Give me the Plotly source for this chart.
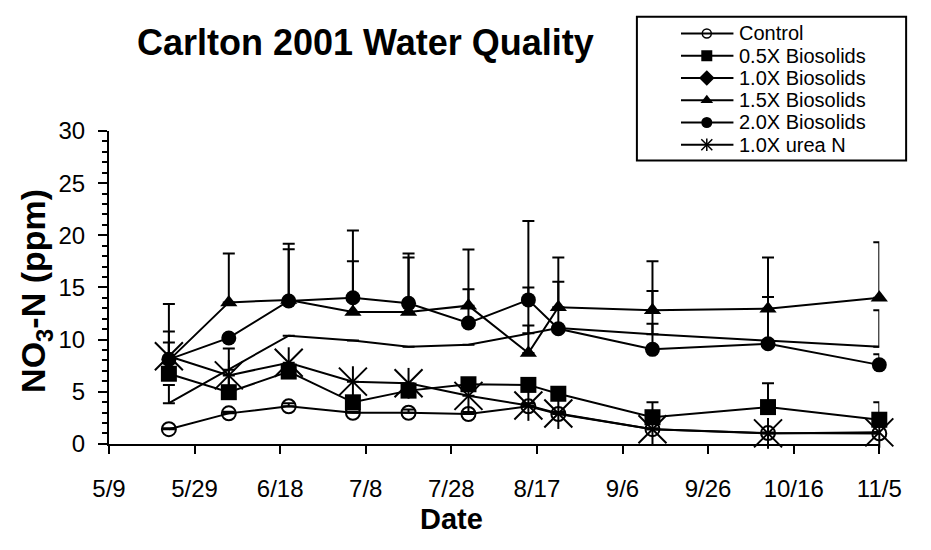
import plotly.graph_objects as go

# ---------------- data ----------------
dates = ["2001-05-23", "2001-06-06", "2001-06-20", "2001-07-05", "2001-07-18",
         "2001-08-01", "2001-08-15", "2001-08-22", "2001-09-13", "2001-10-10",
         "2001-11-05"]

control = [1.4, 2.92, 3.59, 2.98, 2.98, 2.86, 3.59, 2.86, 1.4, 1.03, 1.0]
bio_05 = [6.72, 4.95, 6.93, 3.98, 5.1, 5.71, 5.65, 4.8, 2.55, 3.52, 2.31]
bio_10 = [3.9, 7.1, 10.37, 9.9, 9.3, 9.5, 10.6, 11.1, 10.5, 9.9, 9.3]
bio_15 = [8.0, 13.56, 13.8, 12.65, 12.65, 13.25, 8.7, 13.1, 12.8, 12.95, 14.0]
bio_20 = [8.1, 10.15, 13.7, 14.0, 13.47, 11.58, 13.8, 11.03, 9.06, 9.6, 7.57]
urea = [8.4, 6.56, 7.78, 5.96, 5.8, 4.6, 3.68, 2.9, 1.4, 1.0, 1.1]

err_control = [0.1, 0.15, 0.3, 0.1, 0.3, 0.2, 0.3, 0.2, 0.1, 0.05, 0.1]
err_05 = [3.0, 4.2, 0, 0, 0, 0, 0, 0, 1.43, 2.28, 1.67]
err_10 = [1.75, 0, 0, 0, 0, 0, 4.4, 0, 4.15, 0, 3.5]
err_15 = [5.4, 4.7, 5.38, 4.85, 5.22, 5.38, 2.64, 4.77, 4.7, 4.92, 5.33]
err_20 = [2.66, 0, 4.96, 6.45, 4.79, 3.25, 7.57, 4.5, 2.46, 4.47, 1.03]
err_urea = [0, 0, 0, 0, 0, 0, 0, 0, 0, 0, 0]

series_names = ["Control", "0.5X Biosolids", "1.0X Biosolids",
                "1.5X Biosolids", "2.0X Biosolids", "1.0X urea N"]

y_ticks = [0, 5, 10, 15, 20, 25, 30]

# ---------------- styling ----------------
W, H = 931, 550
FONT = "Liberation Sans, Arial, sans-serif"
BLACK = "#000000"

# plot area in pixels
PL, PR, PT, PB = 96, 900, 123, 452


def px_x(p):
    return p / W


def px_y(p):
    return 1 - p / H


styles = [
    dict(symbol="circle-open", size=14, color=BLACK, line=dict(color=BLACK, width=2)),
    dict(symbol="square", size=16, color=BLACK),
    None,  # 1.0X biosolids drawn without markers
    dict(symbol="triangle-up", size=15, color=BLACK),
    dict(symbol="circle", size=15, color=BLACK),
    dict(symbol="x-thin-open", size=28, color=BLACK, line=dict(color=BLACK, width=2)),
]

legend_styles = [
    dict(symbol="circle-open", size=9, color=BLACK, line=dict(color=BLACK, width=1.5)),
    dict(symbol="square", size=11, color=BLACK),
    dict(symbol="diamond", size=12, color=BLACK),
    dict(symbol="triangle-up", size=11, color=BLACK),
    dict(symbol="circle", size=11, color=BLACK),
    dict(symbol="x-thin-open", size=11, color=BLACK, line=dict(color=BLACK, width=1.5)),
]

values = [control, bio_05, bio_10, bio_15, bio_20, urea]
errors = [err_control, err_05, err_10, err_15, err_20, err_urea]

fig = go.Figure()

for i, (name, vals, errs) in enumerate(zip(series_names, values, errors)):
    st = styles[i]
    fig.add_trace(go.Scatter(
        x=dates, y=vals, name=name,
        mode="lines+markers" if st else "lines",
        line=dict(color=BLACK, width=2),
        marker=st if st else None,
        error_y=dict(type="data", array=errs, symmetric=False,
                     arrayminus=[0] * len(errs),
                     color=BLACK, thickness=2, width=6),
        cliponaxis=False, showlegend=False,
        xaxis="x", yaxis="y",
    ))

# vertical stroke of the urea asterisk
fig.add_trace(go.Scatter(
    x=dates, y=urea, mode="markers",
    marker=dict(symbol="line-ns-open", size=22, color=BLACK,
                line=dict(color=BLACK, width=2)),
    cliponaxis=False, showlegend=False, hoverinfo="skip",
    xaxis="x", yaxis="y",
))

# ---------------- custom legend ----------------
for i, name in enumerate(series_names):
    fig.add_trace(go.Scatter(
        x=[0, 1], y=[i, i], mode="lines",
        line=dict(color=BLACK, width=2),
        showlegend=False, hoverinfo="skip",
        xaxis="x2", yaxis="y2", cliponaxis=False,
    ))
    fig.add_trace(go.Scatter(
        x=[0.49], y=[i], mode="markers",
        marker=legend_styles[i],
        showlegend=False, hoverinfo="skip",
        xaxis="x2", yaxis="y2", cliponaxis=False,
    ))
fig.add_trace(go.Scatter(
    x=[0.49], y=[5], mode="markers",
    marker=dict(symbol="line-ns-open", size=9, color=BLACK,
                line=dict(color=BLACK, width=1.5)),
    showlegend=False, hoverinfo="skip",
    xaxis="x2", yaxis="y2", cliponaxis=False,
))

annotations = []
for i, name in enumerate(series_names):
    annotations.append(dict(
        x=px_x(752), y=i, xref="paper", yref="y2",
        text=name, showarrow=False, xanchor="left", yanchor="middle",
        font=dict(family=FONT, size=20, color=BLACK),
    ))

annotations += [
    dict(x=px_x(364), y=px_y(30), xref="paper", yref="paper",
         text="<b>Carlton 2001 Water Quality</b>", showarrow=False,
         xanchor="center", yanchor="middle",
         font=dict(family=FONT, size=36, color=BLACK)),
    dict(x=px_x(453), y=px_y(531), xref="paper", yref="paper",
         text="<b>Date</b>", showarrow=False,
         xanchor="center", yanchor="middle",
         font=dict(family=FONT, size=29, color=BLACK)),
    dict(x=px_x(20), y=px_y(291), xref="paper", yref="paper",
         text="<b>NO<sub>3</sub>-N (ppm)</b>", showarrow=False, textangle=-90,
         xanchor="center", yanchor="middle",
         font=dict(family=FONT, size=34, color=BLACK)),
]

row_h = 23.4
leg_top = 20.5 - row_h / 2
leg_bot = leg_top + row_h * 6

fig.update_layout(
    width=W, height=H,
    margin=dict(l=0, r=0, t=0, b=0),
    paper_bgcolor="white", plot_bgcolor="white",
    showlegend=False,
    font=dict(family=FONT, color=BLACK),
    xaxis=dict(
        domain=[px_x(PL), px_x(PR)], anchor="y",
        type="date",
        range=["2001-05-09", "2001-11-05"],
        tick0="2001-05-09", dtick=20 * 86400000,
        tickformat="%-m/%-d",
        ticks="outside", ticklen=8, tickwidth=2, tickcolor=BLACK,
        showline=True, linecolor=BLACK, linewidth=2,
        showgrid=False, zeroline=False,
        tickfont=dict(family=FONT, size=24, color=BLACK),
        ticklabelstandoff=14,
    ),
    yaxis=dict(
        domain=[px_y(PB), px_y(PT)], anchor="x",
        range=[0, 30], tickvals=y_ticks,
        ticks="outside", ticklen=9, tickwidth=2, tickcolor=BLACK,
        minor=dict(dtick=1, ticks="outside", ticklen=5, tickwidth=2, tickcolor=BLACK),
        showline=True, linecolor=BLACK, linewidth=2,
        showgrid=False, zeroline=False,
        tickfont=dict(family=FONT, size=24, color=BLACK),
        ticklabelstandoff=8,
    ),
    xaxis2=dict(
        domain=[px_x(693), px_x(748)], anchor="y2", range=[0, 1],
        visible=False, fixedrange=True,
    ),
    yaxis2=dict(
        domain=[px_y(leg_bot), px_y(leg_top)], anchor="x2",
        range=[5.5, -0.5], visible=False, fixedrange=True,
    ),
    shapes=[dict(
        type="rect", xref="paper", yref="paper",
        x0=px_x(647), x1=px_x(928), y0=px_y(154), y1=px_y(3),
        line=dict(color=BLACK, width=2), fillcolor="rgba(0,0,0,0)",
    )],
    annotations=annotations,
)

fig.write_html("out.html")
